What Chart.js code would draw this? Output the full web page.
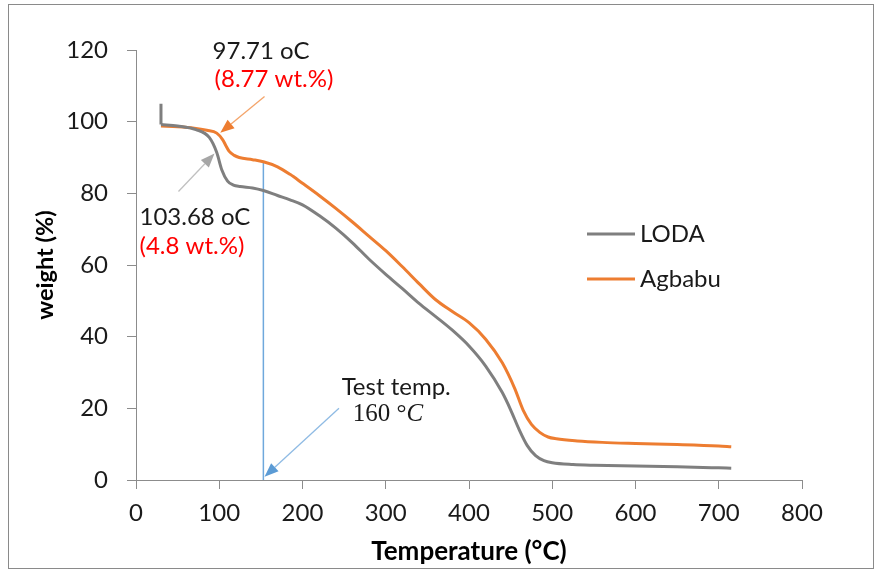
<!DOCTYPE html>
<html>
<head>
<meta charset="utf-8">
<script src="https://cdn.jsdelivr.net/npm/chart.js@4.4.1/dist/chart.umd.min.js"></script>
<style>
  html, body { margin: 0; padding: 0; background: #fff; }
  #wrap { width: 877px; height: 570px; }
</style>
</head>
<body>
<div id="wrap"><canvas id="c" width="877" height="570"></canvas></div>
<script>
// ---- Data ----
const xTicksMin = 0, xTicksMax = 800, xStep = 100;
const yTicksMin = 0, yTicksMax = 120, yStep = 20;

const seriesNames = ["LODA", "Agbabu"];

const tempLODA = [30, 50, 72, 88, 97, 103, 110, 117, 125, 140, 153, 170, 185, 200, 220, 240, 260, 280, 300, 320, 340, 360, 380, 400, 420, 440, 450, 460, 470, 480, 490, 500, 525, 550, 600, 650, 700, 715];
const wLODA    = [99.2, 98.8, 97.8, 95.6, 91.4, 86.6, 83.4, 82.3, 81.9, 81.5, 80.8, 79.4, 78.2, 76.8, 73.8, 70.3, 66.2, 61.6, 57.4, 53.4, 49.3, 45.6, 41.8, 37.4, 31.8, 24.4, 19.6, 14.2, 9.6, 6.8, 5.4, 4.8, 4.3, 4.1, 3.9, 3.7, 3.4, 3.3];

const tempSpikeLODA = [30, 30];
const wSpikeLODA    = [105, 99.2];

const tempAgbabu = [30, 50, 70, 85, 97, 104, 108, 112, 118, 124, 140, 153, 170, 185, 200, 220, 240, 260, 280, 300, 320, 340, 360, 380, 400, 420, 440, 455, 465, 475, 485, 495, 505, 530, 560, 600, 650, 700, 715];
const wAgbabu    = [98.8, 98.6, 98.2, 97.6, 96.8, 95.0, 93.3, 91.7, 90.6, 90.0, 89.4, 88.8, 87.4, 85.3, 82.8, 79.4, 75.8, 72.0, 68.0, 64.0, 59.5, 54.8, 50.3, 47.0, 43.9, 39.3, 32.7, 25.5, 19.5, 15.5, 13.3, 12.0, 11.5, 10.9, 10.5, 10.2, 9.9, 9.5, 9.3];

const testTempX = [153, 153];
const testTempY = [0, 88.8];

const annoTexts = {
  agbT: "97.71 oC", agbW: "(8.77 wt.%)",
  lodT: "103.68 oC", lodW: "(4.8 wt.%)",
  test1: "Test temp.", test2: "160 °", test2i: "C"
};

// ---- Build datasets ----
const zip = (xs, ys) => xs.map((x, i) => ({ x: x, y: ys[i] }));
const GRAY = "#7f7f7f", ORANGE = "#ed7d31", BLUE = "#5b9bd5";

const datasets = [
  { label: seriesNames[0], data: zip(tempLODA, wLODA), borderColor: GRAY, borderWidth: 3,
    pointRadius: 0, fill: false, cubicInterpolationMode: "monotone" },
  { label: seriesNames[0] + " start", data: zip(tempSpikeLODA, wSpikeLODA), borderColor: GRAY, borderWidth: 3,
    pointRadius: 0, fill: false, tension: 0 },
  { label: seriesNames[1], data: zip(tempAgbabu, wAgbabu), borderColor: ORANGE, borderWidth: 3,
    pointRadius: 0, fill: false, cubicInterpolationMode: "monotone" },
  { label: "test", data: zip(testTempX, testTempY), borderColor: "#6fa8dc", borderWidth: 1.5,
    pointRadius: 0, fill: false, tension: 0 }
];

const FONT = "Lato";
const AXIS = "#8c8c8c";

function arrow(ctx, x0, y0, x1, y1, shaft, head, hl, hw) {
  const a = Math.atan2(y1 - y0, x1 - x0);
  const bx = x1 - hl * Math.cos(a), by = y1 - hl * Math.sin(a);
  ctx.save();
  ctx.strokeStyle = shaft; ctx.lineWidth = 1.3;
  ctx.beginPath(); ctx.moveTo(x0, y0); ctx.lineTo(bx, by); ctx.stroke();
  ctx.fillStyle = head;
  ctx.beginPath();
  ctx.moveTo(x1, y1);
  ctx.lineTo(bx + hw / 2 * Math.sin(a), by - hw / 2 * Math.cos(a));
  ctx.lineTo(bx - hw / 2 * Math.sin(a), by + hw / 2 * Math.cos(a));
  ctx.closePath(); ctx.fill();
  ctx.restore();
}

const framePlugin = {
  id: "frame",
  beforeDraw(chart) {
    const ctx = chart.ctx;
    ctx.save();
    ctx.fillStyle = "#fff";
    ctx.fillRect(0, 0, chart.width, chart.height);
    ctx.strokeStyle = "#8a8a8a"; ctx.lineWidth = 1;
    ctx.strokeRect(8.5, 4.5, 865, 564);
    ctx.restore();
  }
};

const annoPlugin = {
  id: "anno",
  afterDatasetsDraw(chart) {
    const ctx = chart.ctx, xs = chart.scales.x, ys = chart.scales.y;
    const P = (x, y) => [xs.getPixelForValue(x), ys.getPixelForValue(y)];
    ctx.save();
    ctx.textBaseline = "middle"; ctx.textAlign = "left";
    ctx.font = "24px " + FONT;
    let p;
    ctx.fillStyle = "#1a1a1a";
    p = P(92, 119.6); ctx.fillText(annoTexts.agbT, p[0], p[1]);
    ctx.fillStyle = "#ff0000";
    p = P(94.4, 111.8); ctx.fillText(annoTexts.agbW, p[0], p[1]);
    ctx.fillStyle = "#1a1a1a";
    p = P(4.2, 73.2); ctx.fillText(annoTexts.lodT, p[0], p[1]);
    ctx.fillStyle = "#ff0000";
    p = P(4.2, 65.1); ctx.fillText(annoTexts.lodW, p[0], p[1]);
    ctx.fillStyle = "#1a1a1a";
    p = P(247, 26.0); ctx.fillText(annoTexts.test1, p[0], p[1]);
    ctx.font = "25px 'Liberation Serif'";
    p = P(260.3, 18.2); ctx.fillText(annoTexts.test2, p[0], p[1]);
    const w = ctx.measureText(annoTexts.test2).width;
    ctx.font = "italic 25px 'Liberation Serif'";
    ctx.fillText(annoTexts.test2i, p[0] + w, p[1]);

    // arrows
    let a = P(154.4, 107), b = P(101.2, 96.9);
    arrow(ctx, a[0], a[1], b[0], b[1], "#f4a46a", ORANGE, 14, 11);
    a = P(51, 80.5); b = P(94.3, 91.1);
    arrow(ctx, a[0], a[1], b[0], b[1], "#c0c0c0", "#a6a6a6", 14, 11);
    a = P(243.8, 20.0); b = P(154.4, 0.9);
    arrow(ctx, a[0], a[1], b[0], b[1], "#8fbbe4", BLUE, 14, 11);

    // legend
    const lg = [[seriesNames[0], GRAY, 234], [seriesNames[1], ORANGE, 279]];
    ctx.font = "24px " + FONT; ctx.fillStyle = "#1a1a1a";
    lg.forEach(([t, c, yy]) => {
      ctx.strokeStyle = c; ctx.lineWidth = 3;
      ctx.beginPath(); ctx.moveTo(587, yy); ctx.lineTo(635, yy); ctx.stroke();
      ctx.fillText(t, 640, yy);
    });
    ctx.restore();
  }
};

new Chart(document.getElementById("c"), {
  type: "line",
  data: { datasets: datasets },
  plugins: [framePlugin, annoPlugin],
  options: {
    responsive: false,
    animation: false,
    layout: { padding: { left: 0, right: 75, top: 50, bottom: 0 } },
    plugins: { legend: { display: false }, tooltip: { enabled: false } },
    scales: {
      x: {
        type: "linear", min: xTicksMin, max: xTicksMax,
        ticks: { stepSize: xStep, color: "#1a1a1a", font: { family: FONT, size: 24 }, padding: 10, maxRotation: 0 },
        grid: { drawOnChartArea: false, drawTicks: true, tickLength: 9, color: AXIS },
        border: { color: AXIS, width: 1 },
        title: { display: true, text: "Temperature (°C)", color: "#000",
                 font: { family: FONT, size: 26, weight: "bold" }, padding: { top: 0, bottom: 3 } },
        afterFit(s) { s.height = 90; }
      },
      y: {
        type: "linear", min: yTicksMin, max: yTicksMax,
        ticks: { stepSize: yStep, color: "#1a1a1a", font: { family: FONT, size: 24 }, padding: 19 },
        grid: { drawOnChartArea: false, drawTicks: true, tickLength: 9, color: AXIS },
        border: { color: AXIS, width: 1 },
        title: { display: true, text: "weight (%)", color: "#000",
                 font: { family: FONT, size: 23.5, weight: "bold" }, padding: { top: 31, bottom: 0 } },
        afterFit(s) { s.width = 136; }
      }
    }
  }
});
</script>
</body>
</html>
